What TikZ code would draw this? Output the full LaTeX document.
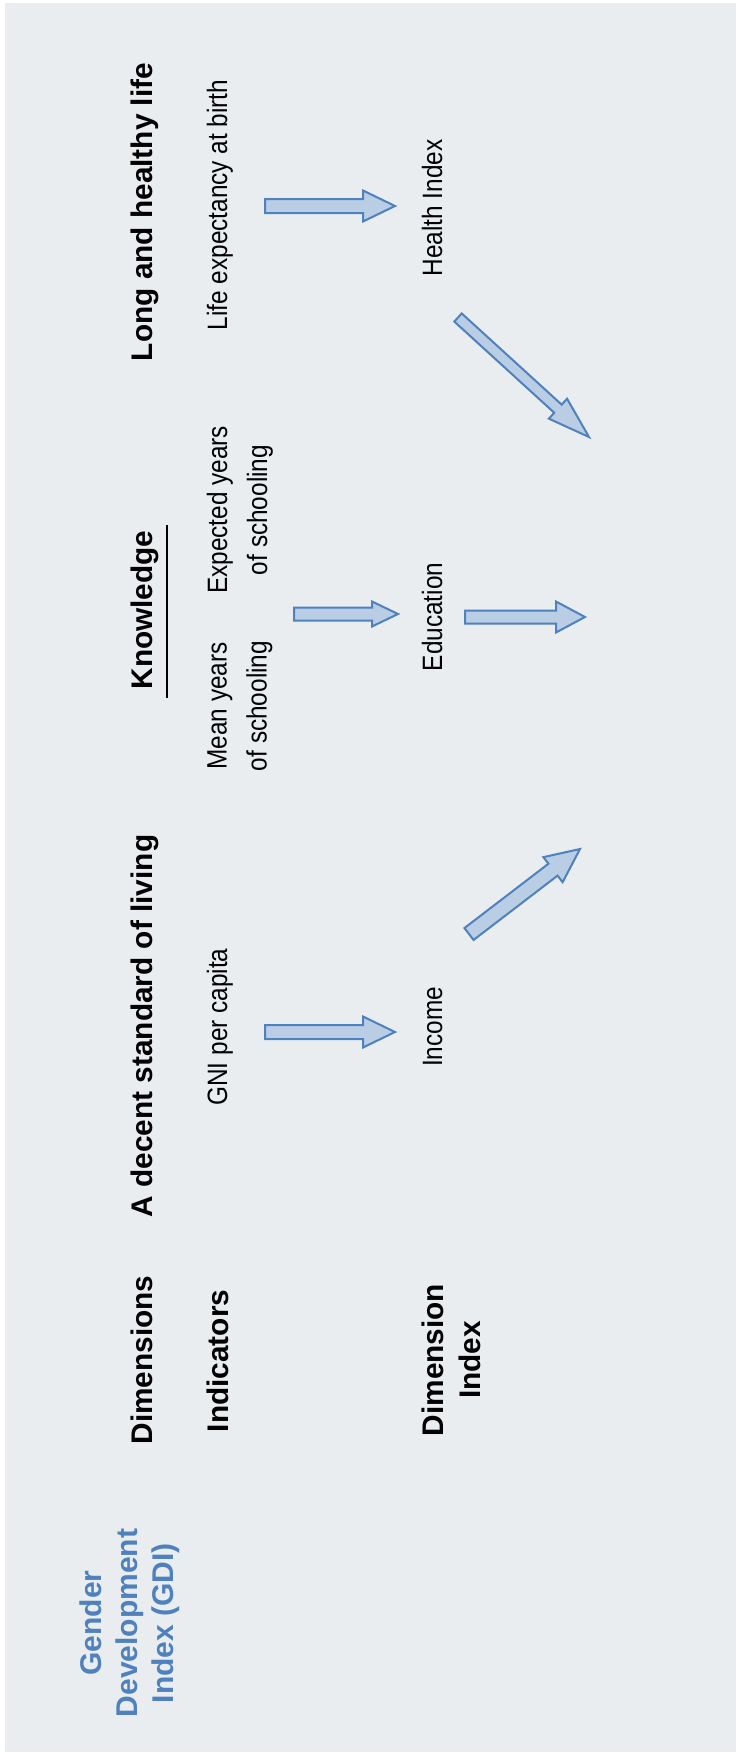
\documentclass[tikz,border=0pt]{standalone}
\usepackage{fontspec}
\setmainfont{Liberation Sans}
\newfontfamily\condfont[FakeStretch=0.87]{Liberation Sans}
\usetikzlibrary{calc}
\definecolor{bgc}{HTML}{E9EDF0}
\definecolor{afill}{HTML}{B9CDE5}
\definecolor{aline}{HTML}{4F81BD}
\definecolor{gdiblue}{HTML}{4F81BD}
\tikzset{
  headtxt/.style={font=\fontsize{29.8}{37.5}\selectfont\bfseries, inner sep=0pt, rotate=90, anchor=base},
  indtxt/.style={font=\condfont\fontsize{28}{40}\selectfont, inner sep=0pt, rotate=90, anchor=base},
  gditxt/.style={font=\fontsize{30}{36}\selectfont\bfseries, text=gdiblue, inner sep=0pt, rotate=90, align=center, anchor=center},
  barrow/.style={fill=afill, draw=aline, line width=2pt, line join=miter},
}
% #1 tail, #2 tip, #3 shaft half width, #4 head half width, #5 head length
\newcommand\blockarrow[5]{%
  \coordinate (hb) at ($(#2)!#5!(#1)$);
  \draw[barrow] ($(#1)!#3!90:(#2)$) -- ($(hb)!#3!90:(#2)$) -- ($(hb)!#4!90:(#2)$)
    -- (#2) -- ($(hb)!#4!-90:(#2)$) -- ($(hb)!#3!-90:(#2)$) -- ($(#1)!#3!-90:(#2)$) -- cycle;
}
\begin{document}
\begin{tikzpicture}[x=1pt, y=-1pt]
\useasboundingbox (0,0) rectangle (736,1753);
\fill[bgc] (4.5,3.5) rectangle (736,1752);

% Dimensions row
\node[headtxt] (dimlong) at (152,212) {Long and healthy life};
\node[headtxt] (dimknow) at (152,610) {Knowledge};
\node[headtxt] (dimliv) at (152,1026) {A decent standard of living};
\node[headtxt] (dimlab) at (152,1360) {Dimensions};
\coordinate (ulA) at (167,525);
\coordinate (ulB) at (167,698);
\draw[line width=2.7pt] (ulA) -- (ulB);

% Indicators row
\node[indtxt] (indlife) at (227,205) {Life expectancy at birth};
\node[indtxt, align=center, anchor=center] (indexp) at (240,510) {Expected years\\of schooling};
\node[indtxt, align=center, anchor=center] (indmean) at (240,706) {Mean years\\of schooling};
\node[indtxt] (indgni) at (227,1027) {GNI per capita};
\node[headtxt] (indlab) at (228.5,1361) {Indicators};

% Dimension index row
\node[indtxt] (hidx) at (442,208) {Health Index};
\node[indtxt] (eidx) at (442,617) {Education};
\node[indtxt] (iidx) at (442,1027) {Income};
\node[headtxt, align=center, anchor=center] (didx) at (451.5,1360) {Dimension\\Index};

% GDI
\node[gditxt] (gdi) at (130,1623) {Gender\\Development\\Index (GDI)};

% Arrows
\coordinate (hA) at (265,206);  \coordinate (hB) at (395,206);
\coordinate (iA) at (265,1032); \coordinate (iB) at (395,1032);
\coordinate (eA) at (294,614);  \coordinate (eB) at (398,614);
\coordinate (fA) at (465,617);  \coordinate (fB) at (585,617);
\coordinate (dA) at (458,317.5); \coordinate (dB) at (589,437);
\coordinate (gA) at (469,934);  \coordinate (gB) at (580,849);

\blockarrow{hA}{hB}{7pt}{15.5pt}{32pt}
\blockarrow{iA}{iB}{7pt}{15.5pt}{32pt}
\blockarrow{eA}{eB}{6.5pt}{12.5pt}{26pt}
\blockarrow{fA}{fB}{6.5pt}{15.5pt}{29pt}
\blockarrow{dA}{dB}{5.5pt}{13.5pt}{42pt}
\blockarrow{gA}{gB}{7.5pt}{15.8pt}{34pt}
\end{tikzpicture}
\end{document}
